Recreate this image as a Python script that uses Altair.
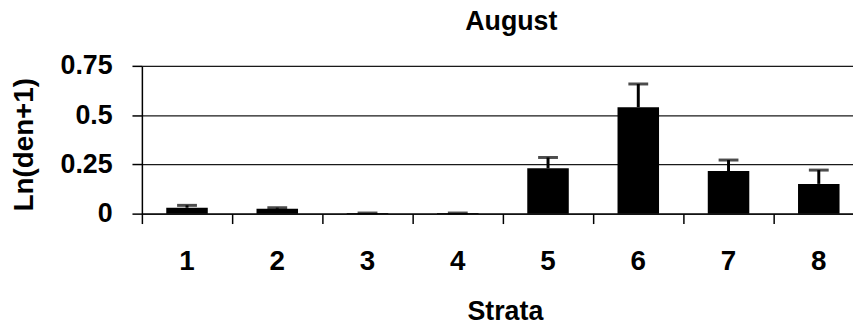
import altair as alt
import pandas as pd

strata = ["1", "2", "3", "4", "5", "6", "7", "8"]
means = [0.030, 0.025, 0.003, 0.003, 0.230, 0.540, 0.216, 0.151]
err_top = [0.042, 0.030, 0.003, 0.003, 0.285, 0.658, 0.272, 0.221]
y_ticks = [0, 0.25, 0.5, 0.75]

df = pd.DataFrame({"Strata": strata, "mean": means, "top": err_top})

FONT = "Liberation Sans"

x = alt.X(
    "Strata:N",
    sort=strata,
    scale=alt.Scale(range=[0, 728], paddingInner=0, paddingOuter=0),
    axis=alt.Axis(
        title="Strata",
        labelAngle=0,
        bandPosition=0,
        tickSize=10,
        tickColor="black",
        tickWidth=1.5,
        domainColor="black",
        domainWidth=1.5,
        labelFont=FONT,
        labelFontSize=28,
        labelFontWeight="bold",
        labelColor="black",
        labelPadding=24,
        titleFont=FONT,
        titleFontSize=27,
        titleFontWeight="bold",
        titleColor="black",
        titlePadding=24,
        titleX=366,
    ),
)

y = alt.Y(
    "mean:Q",
    scale=alt.Scale(domain=[0, 0.75], nice=False),
    axis=alt.Axis(
        title="Ln(den+1)",
        values=y_ticks,
        format=".2~f",
        tickSize=10,
        tickColor="black",
        tickWidth=1.5,
        domainColor="black",
        domainWidth=1.5,
        grid=True,
        gridColor="#1a1a1a",
        gridWidth=1.2,
        labelFont=FONT,
        labelFontSize=27,
        labelFontWeight="bold",
        labelColor="black",
        labelPadding=20,
        titleFont=FONT,
        titleFontSize=28,
        titleFontWeight="bold",
        titleColor="black",
        titlePadding=22,
        titleY=79,
    ),
)

bars = alt.Chart(df).mark_bar(color="black", width={"band": 0.46}).encode(x=x, y=y)

rules = alt.Chart(df).mark_rule(color="black", strokeWidth=3).encode(
    x=alt.X("Strata:N", sort=strata),
    y="mean:Q",
    y2="top:Q",
)

caps = alt.Chart(df).mark_tick(color="black", size=20, thickness=3).encode(
    x=alt.X("Strata:N", sort=strata),
    y="top:Q",
)

chart = (
    alt.layer(bars, rules, caps)
    .properties(
        width=717,
        height=149,
        title=alt.TitleParams(
            "August",
            font=FONT,
            fontSize=27,
            fontWeight="bold",
            color="black",
            offset=16,
            dx=14,
        ),
        autosize=alt.AutoSizeParams(type="none"),
        padding={"left": 135, "top": 57, "right": 0, "bottom": 116},
    )
    .configure_view(stroke=None)
    .configure(background="white")
)

chart.save("out.html", embed_options={"renderer": "svg", "actions": False})
